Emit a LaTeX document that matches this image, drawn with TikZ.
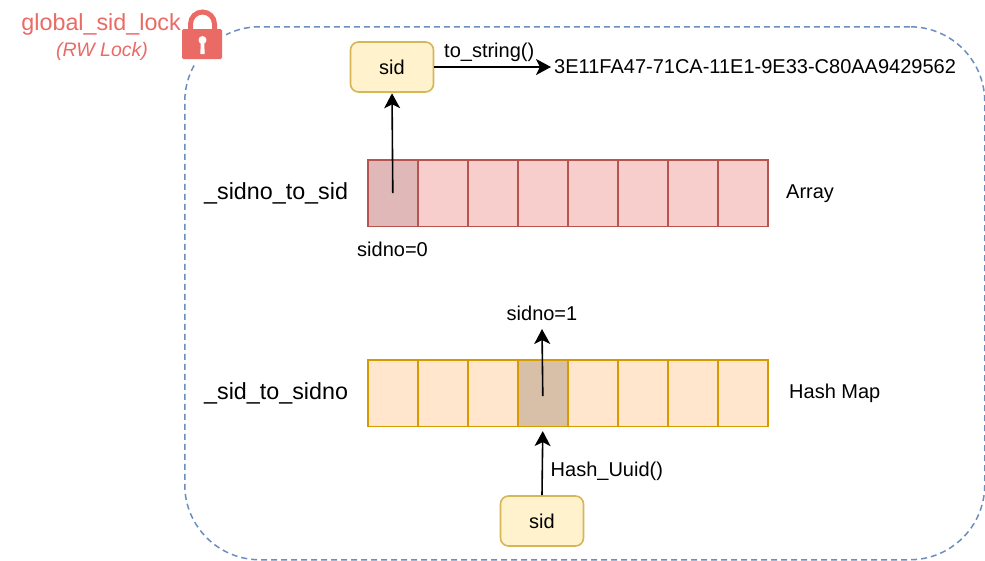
\documentclass[tikz,border=0pt]{standalone}
\usepackage{fontspec}
\setmainfont{Liberation Sans}
\usetikzlibrary{arrows.meta}
\definecolor{lockred}{HTML}{EA6B66}
\definecolor{dashblue}{HTML}{6C8EBF}
\definecolor{redfill}{HTML}{F8CECC}
\definecolor{redline}{HTML}{B85450}
\definecolor{redsel}{HTML}{E0B8B8}
\definecolor{orangefill}{HTML}{FFE6CC}
\definecolor{orangeline}{HTML}{D79B00}
\definecolor{orangesel}{HTML}{D8C0A8}
\definecolor{yelfill}{HTML}{FFF2CC}
\definecolor{yelline}{HTML}{D6B656}
\tikzset{
 x=1pt,y=-1pt,
 txt/.style={inner sep=0pt,font=\fontsize{20}{23}\selectfont,text=black},
 biglabel/.style={inner sep=0pt,font=\fontsize{23.3}{26}\selectfont,text=black},
 cellbox/.style={draw,line width=1.6pt,minimum width=50pt,minimum height=66.5pt,inner sep=0pt,anchor=north west},
 redcell/.style={cellbox,draw=redline,fill=redfill},
 redpick/.style={cellbox,draw=redline,fill=redsel},
 orgcell/.style={cellbox,draw=orangeline,fill=orangefill},
 orgpick/.style={cellbox,draw=orangeline,fill=orangesel},
 sidbox/.style={draw=yelline,fill=yelfill,line width=1.6pt,rounded corners=8pt,minimum width=83pt,minimum height=50pt,inner sep=0pt,font=\fontsize{20}{23}\selectfont},
 conn/.style={line width=1.6pt,-{Stealth[length=15pt,width=16pt,inset=4pt]}},
}
\begin{document}
\begin{tikzpicture}
\useasboundingbox (0,0) rectangle (985,560);
\fill[white] (0,0) rectangle (985,560);
\node[draw=dashblue,line width=1.5pt,dash pattern=on 6pt off 4pt,rounded corners=75pt,minimum width=800pt,minimum height=533pt,inner sep=0pt,anchor=north west] (frame) at (184,26) {};
% lock
\fill[white] (178,6) rectangle (226,63);
\fill[lockred,rounded corners=1.5pt] (182,29) rectangle (222,59);
\draw[lockred,line width=5pt] (190.5,31) -- (190.5,24) arc[start angle=180,end angle=0,x radius=12,y radius=-12] -- (214.5,31);
\fill[white] (202.5,40) circle[radius=4];
\fill[white] (200.7,40) -- (204.3,40) -- (204.6,54) -- (200.4,54) -- cycle;
\node[inner sep=0pt,font=\fontsize{23.3}{26}\selectfont,text=lockred,anchor=base east] (locktitle) at (181,30) {global\_sid\_lock};
\node[inner sep=0pt,font=\fontsize{19.5}{22}\selectfont\itshape,text=lockred,anchor=base] (locksub) at (102,56.5) {(RW Lock)};
% rows
\foreach \i in {1,...,7}{
 \node[redcell] (a\i) at (367+50*\i,159) {};
}
\node[redpick] (a0) at (367,159) {};
\foreach \i in {0,1,2,4,5,6,7}{
 \node[orgcell] (b\i) at (367+50*\i,359) {};
}
\node[orgpick] (b3) at (517,359) {};
\node[sidbox] (sidtop) at (392,67) {sid};
\node[sidbox] (sidbot) at (542,521) {sid};
\node[biglabel,anchor=base west] (lblA) at (204,199) {\_sidno\_to\_sid};
\node[biglabel,anchor=base west] (lblB) at (204,399) {\_sid\_to\_sidno};
\node[txt,anchor=base west] (arr) at (786,198) {Array};
\node[txt,anchor=base west] (hm) at (789,398) {Hash Map};
\node[txt,anchor=base west] (s0) at (357,256.5) {sidno=0};
\node[txt,anchor=base] (s1) at (542,320) {sidno=1};
\node[txt,anchor=base west] (uuid) at (554,73) {3E11FA47-71CA-11E1-9E33-C80AA9429562};
\node[txt,anchor=base west] (ts) at (444,57) {to\_string()};
\node[txt,anchor=base west] (hu) at (550.5,476.5) {Hash\_Uuid()};
\coordinate (a0c) at (a0.center);
\coordinate (b3c) at ([yshift=-3pt]b3.center);
\draw[conn,shorten >=3pt] (sidtop.east) -- (uuid.west|-sidtop.east);
\draw[conn,shorten >=0.5pt] (a0c) -- (sidtop.south);
\draw[conn,shorten >=4pt] (sidbot.north) -- (b3.south);
\draw[conn] (b3c) -- ([yshift=-9pt]s1.base);
\end{tikzpicture}
\end{document}
